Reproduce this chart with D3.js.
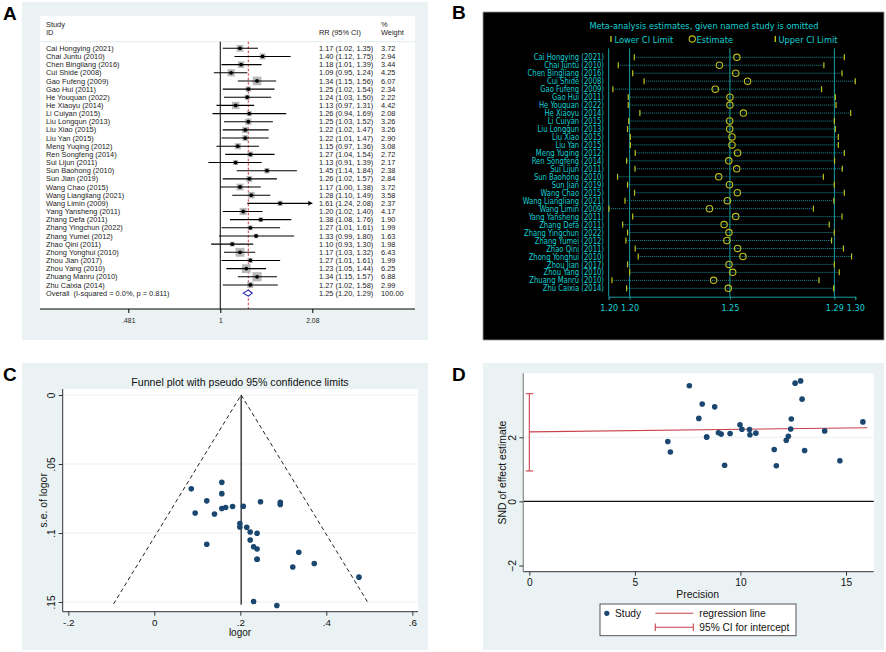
<!DOCTYPE html>
<html>
<head>
<meta charset="utf-8">
<script src="https://cdn.jsdelivr.net/npm/d3@7"></script>
<style>
  body { margin: 0; background: #fff; }
  text { font-family: "Liberation Sans", Arial, sans-serif; }
  .narrow { font-family: "Liberation Sans Narrow", "Arial Narrow", "DejaVu Sans Condensed", sans-serif; }
</style>
</head>
<body>
<svg id="fig" width="886" height="652"></svg>
<script>
// ---------- data ----------
var studies = ["Cai Hongying (2021)", "Chai Juntu (2010)", "Chen Bingliang (2016)", "Cui Shide (2008)",
  "Gao Fufeng (2009)", "Gao Hui (2011)", "He Youquan (2022)", "He Xiaoyu (2014)", "Li Cuiyan (2015)",
  "Liu Longqun (2013)", "Liu Xiao (2015)", "Liu Yan (2015)", "Meng Yuqing (2012)", "Ren Songfeng (2014)",
  "Sui Lijun (2011)", "Sun Baohong (2010)", "Sun Jian (2019)", "Wang Chao (2015)", "Wang Liangliang (2021)",
  "Wang Limin (2009)", "Yang Yansheng (2011)", "Zhang Defa (2011)", "Zhang Yingchun (2022)",
  "Zhang Yumei (2012)", "Zhao Qini (2011)", "Zhong Yonghui (2010)", "Zhou Jian (2017)", "Zhou Yang (2010)",
  "Zhuang Manru (2010)", "Zhu Caixia (2014)"];

// A: forest plot
var rr     = [1.17,1.40,1.18,1.09,1.34,1.25,1.24,1.13,1.26,1.25,1.22,1.22,1.15,1.27,1.13,1.45,1.26,1.17,1.28,1.61,1.20,1.38,1.27,1.33,1.10,1.17,1.27,1.23,1.34,1.27];
var rrLow  = [1.02,1.12,1.01,0.95,1.15,1.02,1.03,0.97,0.94,1.03,1.02,1.01,0.97,1.04,0.91,1.14,1.02,1.00,1.10,1.24,1.02,1.08,1.01,0.99,0.93,1.03,1.01,1.05,1.15,1.02];
var rrHigh = [1.35,1.75,1.39,1.24,1.56,1.54,1.50,1.31,1.69,1.52,1.47,1.47,1.36,1.54,1.39,1.84,1.57,1.38,1.49,2.08,1.40,1.76,1.61,1.80,1.30,1.32,1.61,1.44,1.57,1.58];
var weight = [3.72,2.94,3.44,4.25,6.07,2.34,2.22,4.42,2.08,3.26,3.26,2.90,3.08,2.72,2.17,2.38,2.84,3.72,3.58,2.37,4.17,1.90,1.99,1.63,1.98,6.43,1.99,6.25,6.88,2.99];
var overall = {rr: 1.25, low: 1.20, high: 1.29, label: "Overall  (I-squared = 0.0%, p = 0.811)", weight: "100.00"};
var forestTicks = [0.481, 1, 2.08];
var forestTickLabels = [".481", "1", "2.08"];

// B: influence (one study omitted)
var omitLow  = [1.2065,1.1996,1.2058,1.2107,1.1973,1.2039,1.2039,1.2089,1.2041,1.2036,1.2048,1.2048,1.2069,1.2032,1.2068,1.1993,1.2036,1.2066,1.2025,1.1956,1.2058,1.2015,1.2036,1.2029,1.2069,1.2082,1.2036,1.2045,1.1969,1.2032];
var omitEst  = [1.2506,1.2431,1.2501,1.2552,1.2413,1.2476,1.2476,1.2534,1.2475,1.2475,1.2485,1.2485,1.2509,1.2471,1.2505,1.2428,1.2474,1.2508,1.2465,1.2388,1.2501,1.2451,1.2472,1.2463,1.2509,1.2532,1.2472,1.2488,1.2406,1.2469];
var omitHigh = [1.2968,1.2880,1.2958,1.3015,1.2870,1.2929,1.2932,1.2995,1.2925,1.2929,1.2942,1.2942,1.2968,1.2926,1.2959,1.2878,1.2925,1.2968,1.2923,1.2835,1.2958,1.2903,1.2925,1.2913,1.2964,1.2999,1.2925,1.2946,1.2859,1.2922];
var omitTicks = [1.1955, 1.2045, 1.2476, 1.2925, 1.3015];

// C: funnel plot
var logor = [0.157,0.336,0.166,0.086,0.293,0.223,0.215,0.122,0.231,0.223,0.199,0.199,0.140,0.239,0.122,0.372,0.231,0.157,0.247,0.476,0.182,0.322,0.239,0.285,0.095,0.157,0.239,0.207,0.293,0.239];
var seLogor = [0.0715,0.1139,0.0815,0.0680,0.0778,0.1051,0.0959,0.0767,0.1496,0.0993,0.0932,0.0957,0.0862,0.1002,0.1081,0.1221,0.1100,0.0822,0.0774,0.1320,0.0808,0.1246,0.1190,0.1525,0.0855,0.0633,0.1190,0.0806,0.0794,0.1116];
var funnelCentre = 0.202, funnelSeMax = 0.1514;
var funnelXTicks = [-0.2, 0, 0.2, 0.4, 0.6], funnelXLabels = ["-.2", "0", ".2", ".4", ".6"];
var funnelYTicks = [0, 0.05, 0.1, 0.15], funnelYLabels = ["0", ".05", ".1", ".15"];

// D: Egger test
var precision = [13.99,8.78,12.27,14.71,12.85,9.51,10.43,13.04,6.68,10.07,10.73,10.45,11.60,9.98,9.25,8.19,9.09,12.17,12.92,7.58,12.38,8.03,8.40,6.56,11.70,15.80,8.40,12.41,12.59,8.96];
var snd = [2.20,2.95,2.03,1.27,3.76,2.12,2.24,1.59,1.54,2.25,2.13,2.08,1.62,2.39,1.13,3.04,2.10,1.91,3.19,3.61,2.26,2.59,2.01,1.87,1.11,2.48,2.01,2.57,3.69,2.14];
var regLine = [[0, 2.17], [16, 2.30]];
var interceptCI = [0.95, 3.36];
var eggerXTicks = [0, 5, 10, 15], eggerYTicks = [-2, 0, 2];

var f2 = d3.format(".2f");
var svg = d3.select("#fig");
svg.append("rect").attr("width", 886).attr("height", 652).attr("fill", "#fff");

function letter(t, x, y) {
  svg.append("text").attr("x", x).attr("y", y).attr("font-size", 19)
    .attr("font-weight", "bold").attr("fill", "#000").text(t);
}
letter("A", 3, 20); letter("B", 452, 19); letter("C", 3, 381); letter("D", 452, 381);

// ================= A =================
var gA = svg.append("g");
gA.append("rect").attr("x", 22).attr("y", 2).attr("width", 406).attr("height", 338).attr("fill", "#eaf2f3");
gA.append("rect").attr("x", 40).attr("y", 16).attr("width", 375).attr("height", 293).attr("fill", "#fff");
gA.append("line").attr("x1", 40).attr("x2", 415).attr("y1", 41.7).attr("y2", 41.7).attr("stroke", "#e3ecee");

var xA = d3.scaleLog().domain([0.481, 2.08]).range([128.3, 312.3]);
var yA = d3.scaleLinear().domain([0, 30]).range([48.3, 293.1]);
var fs = 7.4;

function headText(t, x, y) {
  gA.append("text").attr("x", x).attr("y", y).attr("font-size", fs).attr("fill", "#222").text(t);
}
headText("Study", 46, 26.5); headText("ID", 46, 34.5);
headText("RR (95% CI)", 319, 34.5);
headText("%", 381, 26.5); headText("Weight", 381, 34.5);

gA.append("line").attr("x1", xA(1)).attr("x2", xA(1)).attr("y1", 41.7).attr("y2", 309)
  .attr("stroke", "#000").attr("stroke-width", 1);
gA.append("line").attr("x1", xA(overall.rr)).attr("x2", xA(overall.rr)).attr("y1", 41.7).attr("y2", 309)
  .attr("stroke", "#d0202a").attr("stroke-width", 0.9).attr("stroke-dasharray", "2.5,2");

var rowsA = gA.selectAll("g.row").data(studies).enter().append("g").attr("class", "row");
rowsA.append("text").attr("x", 46).attr("y", function(d, i) { return yA(i); }).attr("dy", "0.35em")
  .attr("font-size", fs).attr("fill", "#222").text(function(d) { return d; });
rowsA.append("text").attr("x", 319).attr("y", function(d, i) { return yA(i); }).attr("dy", "0.35em")
  .attr("font-size", fs).attr("fill", "#222")
  .text(function(d, i) { return f2(rr[i]) + " (" + f2(rrLow[i]) + ", " + f2(rrHigh[i]) + ")"; });
rowsA.append("text").attr("x", 381).attr("y", function(d, i) { return yA(i); }).attr("dy", "0.35em")
  .attr("font-size", fs).attr("fill", "#222").text(function(d, i) { return f2(weight[i]); });
rowsA.append("rect")
  .attr("x", function(d, i) { return xA(rr[i]) - 1.75 * Math.sqrt(weight[i]); })
  .attr("y", function(d, i) { return yA(i) - 1.75 * Math.sqrt(weight[i]); })
  .attr("width", function(d, i) { return 3.5 * Math.sqrt(weight[i]); })
  .attr("height", function(d, i) { return 3.5 * Math.sqrt(weight[i]); })
  .attr("fill", "#b9b9b9");
rowsA.append("line")
  .attr("x1", function(d, i) { return xA(rrLow[i]); })
  .attr("x2", function(d, i) { return xA(Math.min(rrHigh[i], 2.08)); })
  .attr("y1", function(d, i) { return yA(i); }).attr("y2", function(d, i) { return yA(i); })
  .attr("stroke", "#000").attr("stroke-width", 1.1);
rowsA.append("circle").attr("cx", function(d, i) { return xA(rr[i]); })
  .attr("cy", function(d, i) { return yA(i); }).attr("r", 1.9).attr("fill", "#000");
// arrow where CI reaches the axis limit
rowsA.filter(function(d, i) { return rrHigh[i] >= 2.08; }).append("path")
  .attr("d", function(d) {
    var j = studies.indexOf(d), x = xA(2.08), y = yA(j);
    return "M" + (x - 4) + "," + (y - 2.5) + "L" + x + "," + y + "L" + (x - 4) + "," + (y + 2.5) + "Z";
  }).attr("fill", "#000");

// overall
var yo = yA(30);
gA.append("text").attr("x", 46).attr("y", yo).attr("dy", "0.35em").attr("font-size", fs).attr("fill", "#222")
  .attr("xml:space", "preserve").text(overall.label);
gA.append("text").attr("x", 319).attr("y", yo).attr("dy", "0.35em").attr("font-size", fs).attr("fill", "#222")
  .text(f2(overall.rr) + " (" + f2(overall.low) + ", " + f2(overall.high) + ")");
gA.append("text").attr("x", 381).attr("y", yo).attr("dy", "0.35em").attr("font-size", fs).attr("fill", "#222")
  .text(overall.weight);
gA.append("path")
  .attr("d", "M" + xA(overall.low) + "," + yo + "L" + xA(overall.rr) + "," + (yo - 3) + "L" + xA(overall.high) + "," + yo +
    "L" + xA(overall.rr) + "," + (yo + 3) + "Z")
  .attr("fill", "#fff").attr("stroke", "#1c1ca8").attr("stroke-width", 1.1);

// axis A
gA.append("line").attr("x1", 40).attr("x2", 415).attr("y1", 309).attr("y2", 309).attr("stroke", "#000").attr("stroke-width", 1);
var axA = gA.append("g").attr("transform", "translate(0,309)")
  .call(d3.axisBottom(xA).tickValues(forestTicks).tickSize(4).tickFormat(function(d, i) { return forestTickLabels[i]; }));
axA.select(".domain").remove();
axA.selectAll("text").attr("font-size", 6.8).attr("fill", "#222").attr("dy", "1.05em");

// ================= B =================
var gB = svg.append("g");
gB.append("rect").attr("x", 483).attr("y", 12).attr("width", 401).attr("height", 328)
  .attr("fill", "#000").attr("stroke", "#9a9a9a").attr("stroke-width", 0.8);
var xB = d3.scaleLinear().domain([omitTicks[0], omitTicks[4]]).range([608.7, 855.3]);
var yB = d3.scaleLinear().domain([0, 29]).range([57.3, 288.3]);
var cyan = "#12d0d4", teal = "#1b9ea2", olive = "#bfbf1a";

gB.append("text").attr("class", "narrow").attr("x", 704).attr("y", 29).attr("text-anchor", "middle")
  .attr("font-size", 9.2).attr("fill", cyan).text("Meta-analysis estimates, given named study is omitted");
// legend
gB.append("line").attr("x1", 611).attr("x2", 611).attr("y1", 36).attr("y2", 42).attr("stroke", olive).attr("stroke-width", 1.4);
gB.append("text").attr("class", "narrow").attr("x", 614.5).attr("y", 42.5).attr("font-size", 9.2).attr("fill", cyan).text("Lower CI Limit");
gB.append("circle").attr("cx", 692.3).attr("cy", 39).attr("r", 3.1).attr("fill", "none").attr("stroke", olive).attr("stroke-width", 1.1);
gB.append("text").attr("class", "narrow").attr("x", 696.5).attr("y", 42.5).attr("font-size", 9.2).attr("fill", cyan).text("Estimate");
gB.append("line").attr("x1", 775.3).attr("x2", 775.3).attr("y1", 36).attr("y2", 42).attr("stroke", olive).attr("stroke-width", 1.4);
gB.append("text").attr("class", "narrow").attr("x", 778.5).attr("y", 42.5).attr("font-size", 9.2).attr("fill", cyan).text("Upper CI Limit");

gB.selectAll("line.vref").data(omitTicks.slice(0, 4)).enter().append("line").attr("class", "vref")
  .attr("x1", function(d) { return xB(d); }).attr("x2", function(d) { return xB(d); })
  .attr("y1", 48.3).attr("y2", 296.7).attr("stroke", teal).attr("stroke-width", 1);

// measure one label so the column matches the original width (~76px for "Chen Bingliang (2016)")
var probe = gB.append("text").attr("class", "narrow").attr("font-size", 9.4).text(studies[2]);
var squeeze = 76.3 / probe.node().getComputedTextLength();
probe.remove();

var rowsB = gB.selectAll("g.rowb").data(studies).enter().append("g").attr("class", "rowb");
rowsB.append("text").attr("class", "narrow")
  .attr("transform", function(d, i) { return "translate(604," + yB(i) + ") scale(" + squeeze + ",0.92)"; })
  .attr("dy", "0.36em").attr("text-anchor", "end").attr("font-size", 9.4).attr("fill", cyan)
  .text(function(d) { return d; });
rowsB.append("line")
  .attr("x1", function(d, i) { return xB(omitLow[i]); }).attr("x2", function(d, i) { return xB(omitHigh[i]); })
  .attr("y1", function(d, i) { return yB(i); }).attr("y2", function(d, i) { return yB(i); })
  .attr("stroke", teal).attr("stroke-width", 0.9).attr("stroke-dasharray", "1,1");
rowsB.append("line")
  .attr("x1", function(d, i) { return xB(omitLow[i]); }).attr("x2", function(d, i) { return xB(omitLow[i]); })
  .attr("y1", function(d, i) { return yB(i) - 3; }).attr("y2", function(d, i) { return yB(i) + 3; })
  .attr("stroke", olive).attr("stroke-width", 1.2);
rowsB.append("line")
  .attr("x1", function(d, i) { return xB(omitHigh[i]); }).attr("x2", function(d, i) { return xB(omitHigh[i]); })
  .attr("y1", function(d, i) { return yB(i) - 3; }).attr("y2", function(d, i) { return yB(i) + 3; })
  .attr("stroke", olive).attr("stroke-width", 1.2);
rowsB.append("circle").attr("cx", function(d, i) { return xB(omitEst[i]); }).attr("cy", function(d, i) { return yB(i); })
  .attr("r", 3.2).attr("fill", "none").attr("stroke", olive).attr("stroke-width", 1.1);

var axB = gB.append("g").attr("transform", "translate(0,296.7)")
  .call(d3.axisBottom(xB).tickValues(omitTicks).tickSize(3).tickFormat(f2));
axB.select(".domain").attr("stroke", teal);
axB.selectAll(".tick line").attr("stroke", teal);
axB.selectAll("text").attr("class", "narrow").attr("font-size", 9).attr("fill", cyan).attr("dy", "0.95em");

// ================= C =================
var gC = svg.append("g");
gC.append("rect").attr("x", 22).attr("y", 363).attr("width", 406).attr("height", 287).attr("fill", "#eaf2f3");
gC.append("rect").attr("x", 62.7).attr("y", 389).attr("width", 355.3).attr("height", 222.7).attr("fill", "#fff");
var xC = d3.scaleLinear().domain([-0.2, 0.6]).range([68.3, 412.3]);
var yC = d3.scaleLinear().domain([0, 0.15]).range([395, 602]);
var navy = "#1a476f";

gC.append("text").attr("x", 240).attr("y", 385.5).attr("text-anchor", "middle").attr("font-size", 10.6).attr("fill", "#111")
  .text("Funnel plot with pseudo 95% confidence limits");
gC.selectAll("line.grid").data(funnelYTicks).enter().append("line").attr("class", "grid")
  .attr("x1", 62.7).attr("x2", 418).attr("y1", function(d) { return yC(d); }).attr("y2", function(d) { return yC(d); })
  .attr("stroke", "#eaf2f3").attr("stroke-width", 1);
// pseudo 95% limits
var zc = 1.96;
gC.append("path")
  .attr("d", "M" + xC(funnelCentre - zc * funnelSeMax) + "," + yC(funnelSeMax) + "L" + xC(funnelCentre) + "," + yC(0) +
    "L" + xC(funnelCentre + zc * funnelSeMax) + "," + yC(funnelSeMax))
  .attr("fill", "none").attr("stroke", "#222").attr("stroke-width", 1).attr("stroke-dasharray", "4,3");
gC.append("line").attr("x1", xC(funnelCentre)).attr("x2", xC(funnelCentre)).attr("y1", yC(0)).attr("y2", yC(0.152))
  .attr("stroke", "#111").attr("stroke-width", 1.2);
gC.selectAll("circle.pt").data(logor).enter().append("circle").attr("class", "pt")
  .attr("cx", function(d) { return xC(d); }).attr("cy", function(d, i) { return yC(seLogor[i]); })
  .attr("r", 2.8).attr("fill", navy);

gC.append("line").attr("x1", 62.7).attr("x2", 62.7).attr("y1", 389).attr("y2", 611.7).attr("stroke", "#333");
gC.append("line").attr("x1", 62.7).attr("x2", 418).attr("y1", 611.7).attr("y2", 611.7).attr("stroke", "#333");
var axCx = gC.append("g").attr("transform", "translate(0,611.7)")
  .call(d3.axisBottom(xC).tickValues(funnelXTicks).tickSize(4).tickFormat(function(d, i) { return funnelXLabels[i]; }));
axCx.select(".domain").remove();
axCx.selectAll("text").attr("font-size", 9.8).attr("fill", "#111").attr("dy", "0.7em");
axCx.selectAll(".tick line").attr("stroke", "#333");
var axCy = gC.append("g").attr("transform", "translate(62.7,0)")
  .call(d3.axisLeft(yC).tickValues(funnelYTicks).tickSize(4).tickFormat(function(d, i) { return funnelYLabels[i]; }));
axCy.select(".domain").remove();
axCy.selectAll(".tick line").attr("stroke", "#333");
axCy.selectAll("text").attr("x", 0).attr("dy", null).attr("text-anchor", "middle").attr("font-size", 10).attr("fill", "#111")
  .attr("transform", "translate(-7.5,0) rotate(-90)");
gC.append("text").attr("x", 240).attr("y", 636.2).attr("text-anchor", "middle").attr("font-size", 10).attr("fill", "#111").text("logor");
gC.append("text").attr("transform", "translate(47,500.3) rotate(-90)").attr("text-anchor", "middle")
  .attr("font-size", 10.4).attr("fill", "#111").text("s.e. of logor");

// ================= D =================
var gD = svg.append("g");
gD.append("rect").attr("x", 483).attr("y", 363).attr("width", 401).attr("height", 287).attr("fill", "#eaf2f3");
gD.append("rect").attr("x", 523.3).attr("y", 373.3).attr("width", 350.4).attr("height", 198.4).attr("fill", "#fff");
var xD = d3.scaleLinear().domain([0, 15]).range([529.3, 846]);
var yD = d3.scaleLinear().domain([-2, 2]).range([565.5, 437.3]);
var red = "#c8414b";

gD.append("line").attr("x1", 523.3).attr("x2", 873.7).attr("y1", yD(2)).attr("y2", yD(2)).attr("stroke", "#eaf2f3");
gD.append("line").attr("x1", 523.3).attr("x2", 873.7).attr("y1", yD(0)).attr("y2", yD(0)).attr("stroke", "#111").attr("stroke-width", 1.1);
gD.append("line").attr("x1", xD(regLine[0][0])).attr("x2", xD(regLine[1][0]))
  .attr("y1", yD(regLine[0][1])).attr("y2", yD(regLine[1][1])).attr("stroke", red).attr("stroke-width", 1.1);
gD.append("line").attr("x1", xD(0)).attr("x2", xD(0)).attr("y1", yD(interceptCI[0])).attr("y2", yD(interceptCI[1]))
  .attr("stroke", red).attr("stroke-width", 1.1);
gD.selectAll("line.cap").data(interceptCI).enter().append("line").attr("class", "cap")
  .attr("x1", xD(0) - 3.5).attr("x2", xD(0) + 4).attr("y1", function(d) { return yD(d); }).attr("y2", function(d) { return yD(d); })
  .attr("stroke", red).attr("stroke-width", 1.1);
gD.selectAll("circle.pt").data(precision).enter().append("circle").attr("class", "pt")
  .attr("cx", function(d) { return xD(d); }).attr("cy", function(d, i) { return yD(snd[i]); })
  .attr("r", 2.8).attr("fill", navy);

gD.append("line").attr("x1", 523.3).attr("x2", 523.3).attr("y1", 373.3).attr("y2", 571.7).attr("stroke", "#888").attr("stroke-width", 1.2);
gD.append("line").attr("x1", 523.3).attr("x2", 873.7).attr("y1", 571.7).attr("y2", 571.7).attr("stroke", "#333");
var axDx = gD.append("g").attr("transform", "translate(0,571.7)")
  .call(d3.axisBottom(xD).tickValues(eggerXTicks).tickSize(4).tickFormat(d3.format("d")));
axDx.select(".domain").remove();
axDx.selectAll(".tick line").attr("stroke", "#333");
axDx.selectAll("text").attr("font-size", 10.2).attr("fill", "#111").attr("dy", "0.72em");
var axDy = gD.append("g").attr("transform", "translate(523.3,0)")
  .call(d3.axisLeft(yD).tickValues(eggerYTicks).tickSize(4).tickFormat(d3.format("d")));
axDy.select(".domain").remove();
axDy.selectAll(".tick line").attr("stroke", "#333");
axDy.selectAll("text").attr("x", 0).attr("dy", null).attr("text-anchor", "middle").attr("font-size", 10.4).attr("fill", "#111")
  .attr("transform", "translate(-7,0) rotate(-90)");
gD.append("text").attr("x", 697.7).attr("y", 598).attr("text-anchor", "middle").attr("font-size", 10.4).attr("fill", "#111").text("Precision");
gD.append("text").attr("transform", "translate(506,472.5) rotate(-90)").attr("text-anchor", "middle")
  .attr("font-size", 10.4).attr("fill", "#111").text("SND of effect estimate");

// legend D
var lg = gD.append("g");
lg.append("rect").attr("x", 600).attr("y", 604).attr("width", 196).attr("height", 31.7).attr("fill", "#fff").attr("stroke", "#444").attr("stroke-width", 0.9);
lg.append("circle").attr("cx", 606.8).attr("cy", 613.3).attr("r", 2.6).attr("fill", navy);
lg.append("text").attr("x", 615).attr("y", 617).attr("font-size", 10.2).attr("fill", "#111").text("Study");
lg.append("line").attr("x1", 655.3).attr("x2", 693.3).attr("y1", 613.3).attr("y2", 613.3).attr("stroke", red).attr("stroke-width", 1.1);
lg.append("text").attr("x", 699.3).attr("y", 617).attr("font-size", 10.2).attr("fill", "#111").text("regression line");
lg.append("line").attr("x1", 655.3).attr("x2", 693.3).attr("y1", 627.3).attr("y2", 627.3).attr("stroke", red).attr("stroke-width", 1.1);
lg.append("line").attr("x1", 655.3).attr("x2", 655.3).attr("y1", 623.5).attr("y2", 631).attr("stroke", red).attr("stroke-width", 1.1);
lg.append("line").attr("x1", 693.3).attr("x2", 693.3).attr("y1", 623.5).attr("y2", 631).attr("stroke", red).attr("stroke-width", 1.1);
lg.append("text").attr("x", 699.3).attr("y", 631).attr("font-size", 10.2).attr("fill", "#111").text("95% CI for intercept");
</script>
</body>
</html>
